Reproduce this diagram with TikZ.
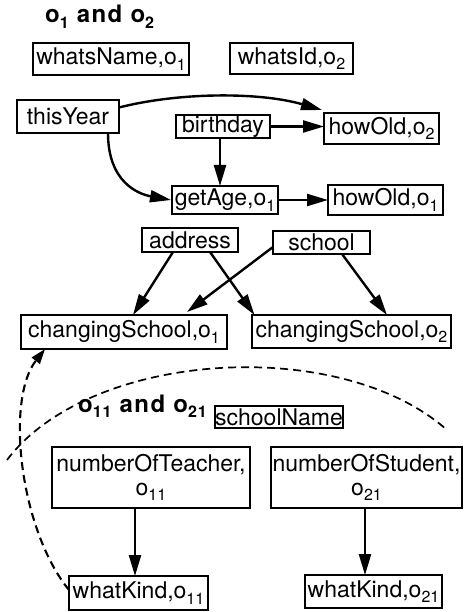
\documentclass[tikz,border=0pt]{standalone}
\usepackage{fontspec}
\setmainfont{TeX Gyre Heros}
\usetikzlibrary{arrows.meta}
\newcommand{\lowidx}[1]{\raisebox{-5.5pt}{\fontsize{16}{16}\selectfont #1}}
\begin{document}
\begin{tikzpicture}[x=1pt,y=-1pt,
  box/.style={draw, line width=1.6pt, inner sep=0pt, outer sep=0pt,
    font=\fontsize{23}{24}\selectfont, align=center},
  arr/.style={line width=2.4pt, -{Triangle[length=21pt,width=12pt]}},
  dasharr/.style={line width=2.1pt, dash pattern=on 8pt off 5pt,
    -{Triangle[length=15pt,width=10pt]}},
  dashline/.style={line width=1.7pt, dash pattern=on 8pt off 5pt},
  lbl/.style={font=\fontsize{24}{26}\selectfont\bfseries\addfontfeatures{LetterSpace=6}, inner sep=0pt, anchor=base west}]
\useasboundingbox (0,0) rectangle (463,612);

% labels
\node[lbl] (t1) at (45,23) {o\lowidx{1} and o\lowidx{2}};
\node[lbl] (t2) at (78,412) {o\lowidx{11} and o\lowidx{21}};

% boxes
\node[box, minimum width=156pt, minimum height=32pt] (wn)  at (111,59)    {whatsName,o\lowidx{1}};
\node[box, minimum width=123pt, minimum height=31pt] (wi)  at (291.5,58.5) {whatsId,o\lowidx{2}};
\node[box, minimum width=102pt, minimum height=33pt] (ty)  at (68,116.5)  {thisYear};
\node[box, minimum width=94pt,  minimum height=23pt] (bd)  at (223,126.5) {birthday};
\node[box, minimum width=115pt, minimum height=31pt] (ho2) at (381.5,128.5) {howOld,o\lowidx{2}};
\node[box, minimum width=106pt, minimum height=28pt] (ga)  at (225,200)   {getAge,o\lowidx{1}};
\node[box, minimum width=115pt, minimum height=30pt] (ho1) at (385.5,200) {howOld,o\lowidx{1}};
\node[box, minimum width=96pt,  minimum height=24pt] (ad)  at (190,240)   {address};
\node[box, minimum width=97pt,  minimum height=23pt] (sc)  at (321.5,242.5) {school};
\node[box, minimum width=206pt, minimum height=34pt] (cs1) at (124,332)   {changingSchool,o\lowidx{1}};
\node[box, minimum width=199pt, minimum height=33pt] (cs2) at (351.5,331.5) {changingSchool,o\lowidx{2}};
\node[box, minimum width=128pt, minimum height=22pt] (sn)  at (279,417)   {schoolName};
\node[box, minimum width=198pt, minimum height=61pt] (nt)  at (151,477.5) {numberOfTeacher,\\o\lowidx{11}};
\node[box, minimum width=191pt, minimum height=61pt] (ns)  at (366.5,477.5) {numberOfStudent,\\o\lowidx{21}};
\node[box, minimum width=139pt, minimum height=34pt] (wk1) at (138.5,593) {whatKind,o\lowidx{11}};
\node[box, minimum width=137pt, minimum height=33pt] (wk2) at (373.5,591.5) {whatKind,o\lowidx{21}};

% connectors
\draw[arr] ([yshift=9pt]ty.east) .. controls (180,92) and (260,92) .. ([xshift=-2pt,yshift=3pt]ho2.north west);
\draw[arr] ([xshift=40pt]ty.south) .. controls (108,182) and (138,194) .. ([xshift=-1pt]ga.west);
\draw[arr] (bd.east) -- (ho2.west |- bd.east);
\draw[arr] ([xshift=-3pt]bd.south) -- ([xshift=-3pt]bd.south |- ga.north);
\draw[arr] (ga.east) -- (ho1.west);
\draw[arr] ([xshift=-17pt]ad.south) -- ([xshift=9pt]cs1.north);
\draw[arr] ([xshift=20pt]ad.south) -- ([xshift=-97pt]cs2.north);
\draw[arr] ([yshift=-4.5pt]sc.west) -- ([xshift=63pt,yshift=3pt]cs1.north);
\draw[arr] ([xshift=20.5pt]sc.south) -- ([xshift=35.5pt]cs2.north);
\draw[arr] ([xshift=-16pt]nt.south) -- ([xshift=-16pt]nt.south |- wk1.north);
\draw[arr] ([xshift=-1.5pt]ns.south) -- ([xshift=-1.5pt]ns.south |- wk2.north);
\draw[dasharr] ([yshift=3pt]wk1.west) .. controls (20,530) and (5,400) .. ([xshift=-79pt]cs1.south);

% boundary of the o11/o21 region
\coordinate (arcL) at (7,460);
\coordinate (arcR) at (447,430);
\draw[dashline] (arcL) .. controls (90,350) and (340,335) .. (arcR);
\end{tikzpicture}
\end{document}
